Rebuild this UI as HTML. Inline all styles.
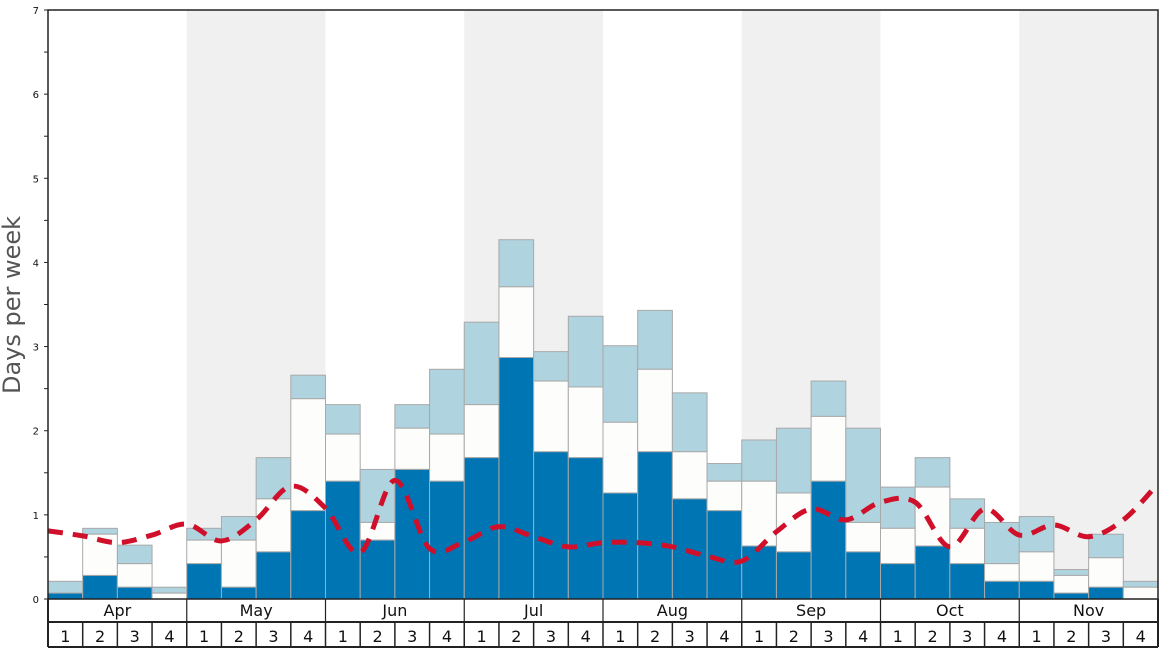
<!DOCTYPE html>
<html><head><meta charset="utf-8"><style>
html,body{margin:0;padding:0;background:#fff;}
svg{display:block;font-family:"DejaVu Sans","Liberation Sans",sans-serif;}
</style></head><body>
<svg id="chart" width="1168" height="648" viewBox="0 0 1168 648" xmlns="http://www.w3.org/2000/svg">
<g id="bg"></g><g id="bars"></g><g id="line"></g><g id="axes"></g>
<text transform="translate(20,305) rotate(-90)" text-anchor="middle" font-size="24" fill="#555">Days per week</text>
</svg>
<script>
const months = ["Apr","May","Jun","Jul","Aug","Sep","Oct","Nov"];
const weekLabels = ["1","2","3","4"];
const darkVals = [0.07,0.28,0.14,0,0.42,0.14,0.56,1.05,1.4,0.7,1.54,1.4,1.68,2.87,1.75,1.68,1.26,1.75,1.19,1.05,0.63,0.56,1.4,0.56,0.42,0.63,0.42,0.21,0.21,0.07,0.14,0];
const whiteVals = [0.07,0.77,0.42,0.07,0.7,0.7,1.19,2.38,1.96,0.91,2.03,1.96,2.31,3.71,2.59,2.52,2.1,2.73,1.75,1.4,1.4,1.26,2.17,0.91,0.84,1.33,0.84,0.42,0.56,0.28,0.49,0.14];
const totalVals = [0.21,0.84,0.64,0.14,0.84,0.98,1.68,2.66,2.31,1.54,2.31,2.73,3.29,4.27,2.94,3.36,3.01,3.43,2.45,1.61,1.89,2.03,2.59,2.03,1.33,1.68,1.19,0.91,0.98,0.35,0.77,0.21];
const avgLine = [0.81,0.75,0.67,0.76,0.89,0.69,0.94,1.34,1.08,0.55,1.41,0.6,0.68,0.86,0.74,0.62,0.67,0.67,0.62,0.51,0.45,0.8,1.07,0.94,1.15,1.15,0.62,1.07,0.76,0.88,0.74,0.94,1.37];
const yTicks = [0,1,2,3,4,5,6,7];

const NS="http://www.w3.org/2000/svg";
const X0=48,X1=1158,Y0=599,Y1=10,YMAX=7;
const n=darkVals.length, bw=(X1-X0)/n;
const xs=i=>X0+i*bw;
const ys=v=>Y0-(v/YMAX)*(Y0-Y1);
function mk(tag,attrs,parent){const e=document.createElementNS(NS,tag);for(const k in attrs)e.setAttribute(k,attrs[k]);parent.appendChild(e);return e;}
const bg=document.getElementById('bg'),bars=document.getElementById('bars'),line=document.getElementById('line'),axes=document.getElementById('axes');

months.forEach((m,mi)=>{
  if(mi%2===1){const r=mk('rect',{x:xs(mi*4),y:Y1,width:bw*4,height:Y0-Y1,fill:'#f0f0f0'},bg);
  
  }
});

for(let i=0;i<n;i++){
  const x=xs(i);
  const segs=[[totalVals[i],whiteVals[i],'#afd3df','bar-light'],[whiteVals[i],darkVals[i],'#fdfdfb','bar-white'],[darkVals[i],0,'#0075b4','bar-dark']];
  segs.forEach(s=>{
    if(s[0]-s[1]<=0)return;
    const r=mk('rect',{x:x,y:ys(s[0]),width:bw,height:ys(s[1])-ys(s[0]),fill:s[2],stroke:'#a9a9a9','stroke-width':1},bars);
    
    
  });
}

// smooth line (catmull-rom)
const pts=avgLine.map((v,i)=>[xs(i),ys(v)]);
let d='M'+pts[0][0]+','+pts[0][1];
for(let i=0;i<pts.length-1;i++){
  const p0=pts[Math.max(0,i-1)],p1=pts[i],p2=pts[i+1],p3=pts[Math.min(pts.length-1,i+2)];
  const c1=[p1[0]+(p2[0]-p0[0])/6,p1[1]+(p2[1]-p0[1])/6],c2=[p2[0]-(p3[0]-p1[0])/6,p2[1]-(p3[1]-p1[1])/6];
  d+=' C'+c1[0]+','+c1[1]+' '+c2[0]+','+c2[1]+' '+p2[0]+','+p2[1];
}
const pl=mk('path',{d:d,fill:'none',stroke:'#d0102a','stroke-width':5,'stroke-dasharray':'15 10'},line);



// axes
const fr=mk('rect',{x:X0,y:Y1,width:X1-X0,height:Y0-Y1,fill:'none',stroke:'#222','stroke-width':1.5},axes);


for(let v=0;v<=YMAX;v+=0.5){
  mk('line',{x1:X0-4,x2:X0,y1:ys(v),y2:ys(v),stroke:'#222','stroke-width':1},axes);
}
yTicks.forEach(v=>{
  const t=mk('text',{x:X0-9,y:ys(v)+4,'font-size':10,'text-anchor':'end',fill:'#111'},axes);
  t.textContent=v;
  
  
});
// month row and week row
mk('line',{x1:X0,x2:X1,y1:622,y2:622,stroke:'#222','stroke-width':2},axes);
mk('line',{x1:X0,x2:X1,y1:647,y2:647,stroke:'#222','stroke-width':2},axes);
mk('line',{x1:X0,x2:X0,y1:Y0,y2:647,stroke:'#222','stroke-width':2},axes);
mk('line',{x1:X1,x2:X1,y1:Y0,y2:647,stroke:'#222','stroke-width':2},axes);
months.forEach((m,mi)=>{
  const x=xs(mi*4);
  mk('line',{x1:x,x2:x,y1:Y0,y2:622,stroke:'#222','stroke-width':1.2},axes);
  const t=mk('text',{x:x+bw*2,y:616,'font-size':16,'text-anchor':'middle',fill:'#111'},axes);
  t.textContent=m;
  
  
  weekLabels.forEach((w,wi)=>{
    const wx=xs(mi*4+wi);
    mk('line',{x1:wx,x2:wx,y1:622,y2:647,stroke:'#222','stroke-width':1.5},axes);
    const tt=mk('text',{x:wx+bw/2,y:642,'font-size':16,'text-anchor':'middle',fill:'#111'},axes);
    tt.textContent=w;
    
    
  });
});
</script>
</body></html>
